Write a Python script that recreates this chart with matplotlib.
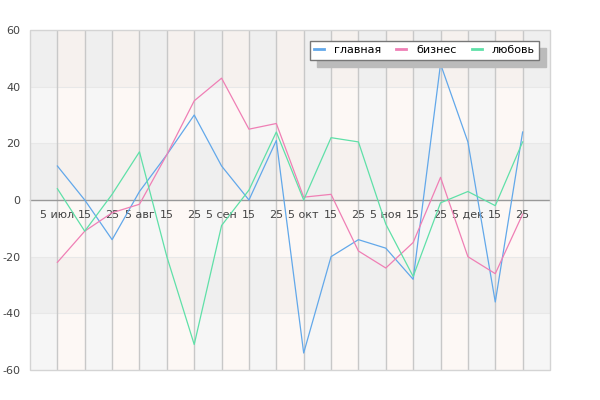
import matplotlib
matplotlib.use("Agg")
import matplotlib.pyplot as plt
from matplotlib.patches import Rectangle

dates = ["5 июл", "15", "25", "5 авг", "15", "25", "5 сен", "15", "25",
         "5 окт", "15", "25", "5 ноя", "15", "25", "5 дек", "15", "25"]

glavnaya = [12, 0, -14, 3, 16, 30, 12, 0, 21, -54, -20, -14, -17, -28, 48, 20.5, -36, 24]
biznes = [-22, -11, -4.5, -1.5, 16, 35, 43, 25, 27, 1, 2, -18, -24, -15, 8, -20, -26, -5]
lyubov = [4, -11, 2, 17, -20, -51, -9, 3.5, 24, 0, 22, 20.5, -8.5, -27, -1, 3, -2, 20.5]

series_names = ["главная", "бизнес", "любовь"]
colors = ["#62a8ea", "#ef7fb5", "#5fe0a8"]

plt.rcParams['font.family'] = ['DejaVu Sans']

fig = plt.figure(figsize=(6, 4), dpi=100)
ax = fig.add_axes([30 / 600, 30 / 400, 520 / 600, 340 / 400])

n = len(dates)
x = list(range(n))
ax.set_xlim(-1, n)
ax.set_ylim(-60, 60)

# column stripes
for k in range(-1, n):
    c = "#fdf8f5" if k % 2 == 0 else "#f6f6f6"
    ax.axvspan(k, k + 1, color=c, lw=0, zorder=0)
# darker row bands
for y0 in (40, 0, -40):
    ax.axhspan(y0, y0 + 20, color="black", alpha=0.028, lw=0, zorder=0.5)
for y0 in (-40, -20, 20, 40):
    ax.axhline(y0, color="#e8e8e8", lw=0.8, zorder=0.6)
for xi in x:
    ax.axvline(xi, color="#c8c8c8", lw=1, zorder=0.7)

for vals, name, col in zip([glavnaya, biznes, lyubov], series_names, colors):
    ax.plot(x, vals, color=col, lw=0.9, label=name, zorder=3)

# x axis on the zero line
for s in ["top", "right", "left"]:
    ax.spines[s].set_visible(False)
ax.spines["bottom"].set_position(("data", 0))
ax.spines["bottom"].set_color("#999999")
ax.spines["bottom"].set_linewidth(1)
ax.spines["bottom"].set_zorder(2)
ax.add_patch(Rectangle((0, 0), 1, 1, transform=ax.transAxes, fill=False,
                       edgecolor="#d4d4d4", lw=1, clip_on=False, zorder=4))

ax.set_xticks(x)
ax.set_xticklabels(dates, fontsize=8, color="#444444", va="baseline")
ax.set_yticks(range(-60, 61, 20))
ax.set_yticklabels([str(v) for v in range(-60, 61, 20)], fontsize=8, color="#444444")
ax.tick_params(axis="both", length=0)
ax.tick_params(axis="x", pad=13)
ax.tick_params(axis="y", pad=7)

leg = ax.legend(loc="upper right", bbox_to_anchor=(0.979, 0.968), borderaxespad=0,
                ncol=3, fontsize=8, handlelength=0.9, handletextpad=0.9,
                columnspacing=1.35, fancybox=False, framealpha=1, borderpad=0.4,
                shadow={"ox": 5, "oy": -5, "facecolor": "#bbbbbb",
                        "edgecolor": "#bbbbbb", "alpha": 1})
leg.get_frame().set_edgecolor("#777777")
leg.get_frame().set_linewidth(1)
for h in leg.get_lines():
    h.set_linewidth(2)
leg.set_zorder(10)

fig.savefig("out.png", dpi=100)
